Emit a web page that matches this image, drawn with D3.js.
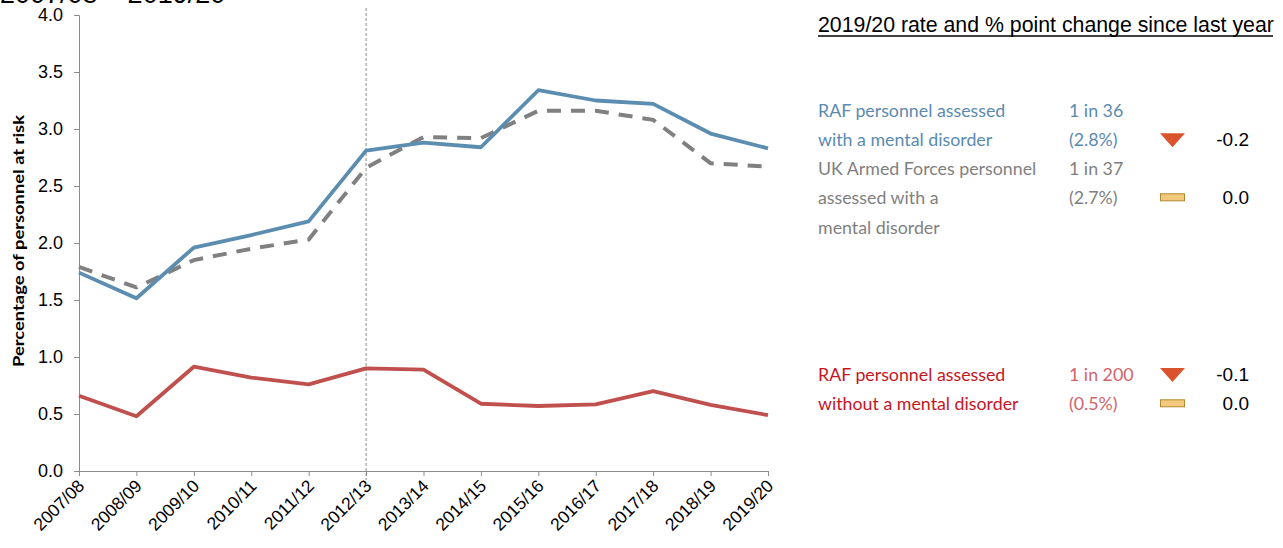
<!DOCTYPE html>
<html>
<head>
<meta charset="utf-8">
<script src="https://cdn.jsdelivr.net/npm/d3@7"></script>
<style>
  body { margin: 0; background: #fff; }
  svg { display: block; }
</style>
</head>
<body>
<div id="chart"></div>
<script>
// chart data
const years = ["2007/08", "2008/09", "2009/10", "2010/11", "2011/12", "2012/13", "2013/14",
    "2014/15", "2015/16", "2016/17", "2017/18", "2018/19", "2019/20"];
const rafWith = [1.74, 1.515, 1.96, 2.07, 2.19, 2.81, 2.88, 2.84, 3.34, 3.25, 3.22, 2.96, 2.83];
const ukWith = [1.79, 1.61, 1.85, 1.95, 2.03, 2.66, 2.93, 2.92, 3.16, 3.16, 3.08, 2.70, 2.67];
const rafWithout = [0.66, 0.48, 0.915, 0.82, 0.76, 0.90, 0.89, 0.59, 0.57, 0.585, 0.70, 0.58, 0.49];
const yTicks = [0, 0.5, 1, 1.5, 2, 2.5, 3, 3.5, 4];
const markerYear = "2012/13";

// right-hand summary panel
const panelTitle = "2019/20 rate and % point change since last year";
const panelRows = [
    {label: ["RAF personnel assessed", "with a mental disorder"], rate: ["1 in 36", "(2.8%)"],
     changes: [null, -0.2], color: "#5b8ab0", rateColor: "#5b8ab0", top: 117},
    {label: ["UK Armed Forces personnel", "assessed with a", "mental disorder"], rate: ["1 in 37", "(2.7%)"],
     changes: [null, 0.0], color: "#7f7f7f", rateColor: "#7f7f7f", top: 175},
    {label: ["RAF personnel assessed", "without a mental disorder"], rate: ["1 in 200", "(0.5%)"],
     changes: [-0.1, 0.0], color: "#c8141e", rateColor: "#d0646a", top: 381}
];

const W = 1283, H = 548;
const margin = {top: 15, left: 79, right: 515, bottom: 77};
const width = W - margin.left - margin.right;
const height = H - margin.top - margin.bottom;
const arial = "'Liberation Sans', Arial, sans-serif";
const panelFont = "Lato, 'Open Sans', sans-serif";

const svg = d3.select("#chart").append("svg")
    .attr("width", W)
    .attr("height", H);

// cut-off heading at the very top
svg.append("text")
    .attr("x", 0).attr("y", 3)
    .style("font-family", arial)
    .style("font-size", "27px")
    .attr("fill", "#000")
    .text("2007/08 – 2019/20");

const g = svg.append("g")
    .attr("transform", "translate(" + margin.left + "," + margin.top + ")");

const xScale = d3.scalePoint().domain(years).range([0, width]);
const yScale = d3.scaleLinear().domain([0, 4]).range([height, 0]);

// y axis
const yAxisG = g.append("g")
    .call(d3.axisLeft(yScale).tickValues(yTicks).tickFormat(d3.format(".1f")).tickSize(5).tickPadding(11));
yAxisG.select(".domain").attr("stroke", "#8c8c8c").attr("d", "M-5,0.5H0.5V" + height);
yAxisG.selectAll(".tick line").attr("stroke", "#8c8c8c");
yAxisG.selectAll(".tick text")
    .style("font-family", arial)
    .style("font-size", "18px")
    .attr("fill", "#000");

// x axis
const xAxisG = g.append("g")
    .attr("transform", "translate(0," + height + ")")
    .call(d3.axisBottom(xScale).tickSize(5).tickSizeOuter(0));
xAxisG.select(".domain").attr("stroke", "#8c8c8c");
xAxisG.selectAll(".tick line").attr("stroke", "#8c8c8c");
xAxisG.selectAll(".tick text")
    .style("font-family", arial)
    .style("font-size", "17.5px")
    .attr("fill", "#000")
    .attr("text-anchor", "end")
    .attr("y", 0)
    .attr("dy", null)
    .attr("transform", "translate(6,16) rotate(-45)");

// y axis title
svg.append("text")
    .attr("transform", "translate(24," + (margin.top + 226) + ") rotate(-90)")
    .attr("text-anchor", "middle")
    .style("font-family", panelFont)
    .style("font-size", "16px")
    .style("font-weight", "bold")
    .attr("fill", "#000")
    .attr("textLength", 252)
    .attr("lengthAdjust", "spacingAndGlyphs")
    .text("Percentage of personnel at risk");

// vertical marker line
g.append("line")
    .attr("x1", xScale(markerYear)).attr("x2", xScale(markerYear))
    .attr("y1", -7).attr("y2", height + 9)
    .attr("stroke", "#8c8c8c")
    .attr("stroke-width", 1)
    .attr("stroke-dasharray", "3,2");

const line = d3.line()
    .x((d, i) => xScale(years[i]))
    .y(d => yScale(d));

g.append("path").datum(ukWith)
    .attr("d", line)
    .attr("fill", "none")
    .attr("stroke", "#808080")
    .attr("stroke-width", 4)
    .attr("stroke-dasharray", "14,10");

g.append("path").datum(rafWith)
    .attr("d", line)
    .attr("fill", "none")
    .attr("stroke", "#5b8db0")
    .attr("stroke-width", 3.8)
    .attr("stroke-linejoin", "round");

g.append("path").datum(rafWithout)
    .attr("d", line)
    .attr("fill", "none")
    .attr("stroke", "#c0504d")
    .attr("stroke-width", 3.8)
    .attr("stroke-linejoin", "round");

// panel
const panel = svg.append("g");
const lineGap = 29.3;

panel.append("text")
    .attr("x", 818).attr("y", 32)
    .style("font-family", arial)
    .style("font-size", "21.3px")
    .attr("fill", "#000")
    .text(panelTitle);
panel.append("line")
    .attr("x1", 818).attr("x2", 1273)
    .attr("y1", 36).attr("y2", 36)
    .attr("stroke", "#000").attr("stroke-width", 1.3);

panelRows.forEach(row => {
    row.label.forEach((t, i) => {
        panel.append("text")
            .attr("x", 818).attr("y", row.top + i * lineGap)
            .style("font-family", panelFont)
            .style("font-size", "17.8px")
            .attr("fill", row.color)
            .text(t);
    });
    row.rate.forEach((t, i) => {
        panel.append("text")
            .attr("x", 1069).attr("y", row.top + i * lineGap)
            .style("font-family", panelFont)
            .style("font-size", "17.8px")
            .attr("fill", row.rateColor)
            .text(t);
    });
    row.changes.forEach((c, i) => {
        if (c === null) return;
        const base = row.top + i * lineGap;
        if (c < 0) {
            panel.append("path")
                .attr("d", "M1160," + (base - 13) + "L1185," + (base - 13) + "L1172.5," + (base + 1) + "Z")
                .attr("fill", "#d9542c");
        } else {
            panel.append("rect")
                .attr("x", 1160.5).attr("y", base - 10.5)
                .attr("width", 24).attr("height", 7)
                .attr("fill", "#f2c97c")
                .attr("stroke", "#b08a2e").attr("stroke-width", 1);
        }
        panel.append("text")
            .attr("x", 1249).attr("y", base)
            .attr("text-anchor", "end")
            .style("font-family", arial)
            .style("font-size", "19px")
            .attr("fill", "#000")
            .text(d3.format(".1f")(c).replace("−", "-"));
    });
});
</script>
</body>
</html>
